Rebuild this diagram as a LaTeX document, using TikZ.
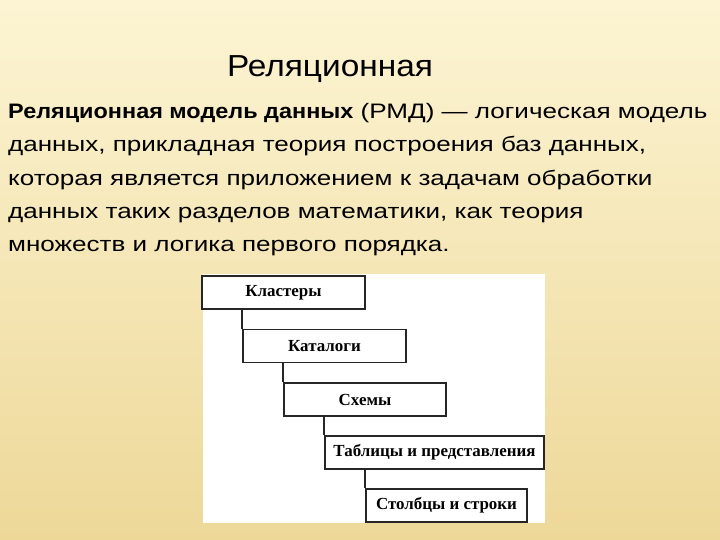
\documentclass[tikz,border=0pt]{standalone}
\usepackage{fontspec}
\setmainfont{Liberation Sans}
\newfontfamily\bodyfont[FakeStretch=1.245]{Liberation Sans}
\newfontfamily\bodybold[FakeStretch=1.12]{Liberation Sans}
\newfontfamily\titlefont[FakeStretch=1.1]{Liberation Sans}
\newfontfamily\boxfont{Liberation Serif}
\definecolor{bgtop}{HTML}{FCF4D3}
\definecolor{bgmid}{HTML}{F6E8B8}
\definecolor{bgbot}{HTML}{EDD898}
\begin{document}
\begin{tikzpicture}[x=1bp,y=-1bp,
    kb/.style={draw=black!85,line width=1.3bp,fill=white,minimum height=33bp,
      inner sep=0pt,font=\boxfont\bfseries\fontsize{17}{19}\selectfont},
    ln/.style={draw=black!85,line width=1.8bp}]
  \shade[top color=bgtop,middle color=bgmid,bottom color=bgbot] (0,0) rectangle (720,540);
  \useasboundingbox (0,0) rectangle (720,540);
  % title and text
  \node[anchor=base,font=\titlefont\fontsize{30.5}{34}\selectfont] (ttl) at (330,77) {Реляционная};
  \node[anchor=north west,align=left,inner sep=0pt,
    font=\bodyfont\fontsize{21}{33.5}\selectfont] (txt) at (8,103)
    {{\bodybold\bfseries Реляционная модель данных} (РМД) — логическая модель\\
     данных, прикладная теория построения баз данных,\\
     которая является приложением к задачам обработки\\
     данных таких разделов математики, как теория\\
     множеств и логика первого порядка.};
  % hierarchy
  \fill[white] (203,274) rectangle (545,523);
  \node[kb,minimum width=163bp] (k1) at (283.5,292.5) {Кластеры};
  \node[kb,minimum width=163bp] (k2) at (324.5,346) {Каталоги};
  \node[kb,minimum width=162bp] (k3) at (365,399.5) {Схемы};
  \node[kb,minimum width=219bp] (k4) at (434.5,452.5) {Таблицы и представления};
  \node[kb,minimum width=161bp] (k5) at (446.5,505.5) {Столбцы и строки};
  \foreach \a/\b in {k1/k2,k2/k3,k3/k4,k4/k5}
    \draw[ln] (\a.south -| \b.west) -- (\b.north west);
\end{tikzpicture}
\end{document}
